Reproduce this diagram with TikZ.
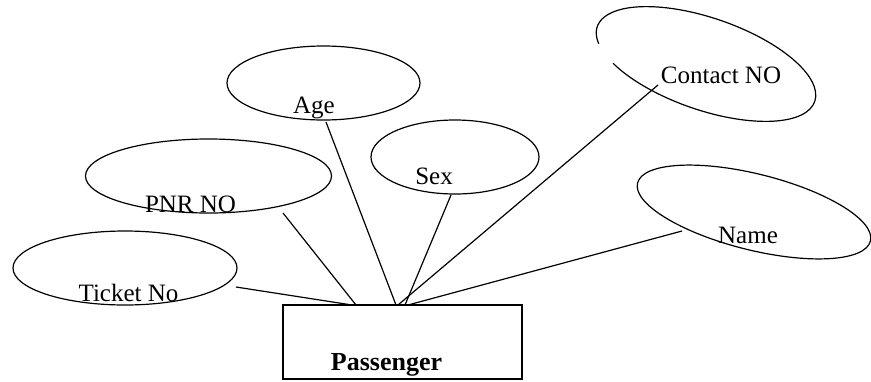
\documentclass[tikz,border=0pt]{standalone}
\usepackage{fontspec}
\setmainfont{Liberation Serif}
\usetikzlibrary{shapes.geometric}
\begin{document}
\begin{tikzpicture}[x=1pt,y=-1pt,
  attr/.style={ellipse, draw, line width=1.2pt, inner sep=0pt},
  lbl/.style={anchor=base, inner sep=0pt, font=\fontsize{25}{30}\selectfont},
  conn/.style={line width=1.2pt},
  entity/.style={rectangle, draw, line width=1.2pt, inner sep=0pt}]
\useasboundingbox (0,0) rectangle (871,381);
% attribute ellipses
\node[attr, minimum width=224, minimum height=74] (tk) at (125,268) {};
\node[attr, minimum width=246, minimum height=74] (pnr) at (208.5,176) {};
\node[attr, minimum width=193, minimum height=74] (age) at (323.5,83) {};
\node[attr, minimum width=168, minimum height=74] (sex) at (455,157) {};
\node[attr, rotate=-14, minimum width=240, minimum height=76] (nm) at (754,212) {};
\coordinate (cn) at (706,64);
\begin{scope}[shift={(cn)}, rotate=-19, x=1pt, y=1pt]
  \draw[line width=1.2pt] (220:115 and 46) arc[start angle=220, end angle=560, x radius=115, y radius=46];
\end{scope}
% entity
\node[entity, minimum width=239, minimum height=74] (pass) at (402.5,342) {};
% labels
\node[lbl] (tkl) at (128.5,301) {Ticket No};
\node[lbl] (pnrl) at (190.5,212) {PNR NO};
\node[lbl] (agel) at (314,113) {Age};
\node[lbl] (sexl) at (434,184) {Sex};
\node[lbl] (cnl) at (721,83) {Contact NO};
\node[lbl] (nml) at (748,243) {Name};
\node[lbl, font=\fontsize{26}{30}\selectfont\bfseries] (passl) at (386.5,370) {Passenger};
% connector ends
\coordinate (tkA) at (236,287);
\coordinate (pnrA) at (283,213);
\coordinate (ageA) at (326,122);
\coordinate (sexA) at (451,195);
\coordinate (cnA) at (658,85);
\coordinate (nmA) at (682,231);
\coordinate (p1) at (352,305);
\coordinate (p2) at (356,305);
\coordinate (p3) at (396,305);
\coordinate (p4) at (398,305);
\coordinate (p5) at (405,305);
\coordinate (p6) at (408,305);
\draw[conn] (tkA) -- (p1);
\draw[conn] (pnrA) -- (p2);
\draw[conn] (ageA) -- (p3);
\draw[conn] (cnA) -- (p4);
\draw[conn] (sexA) -- (p5);
\draw[conn] (nmA) -- (p6);
\end{tikzpicture}
\end{document}
